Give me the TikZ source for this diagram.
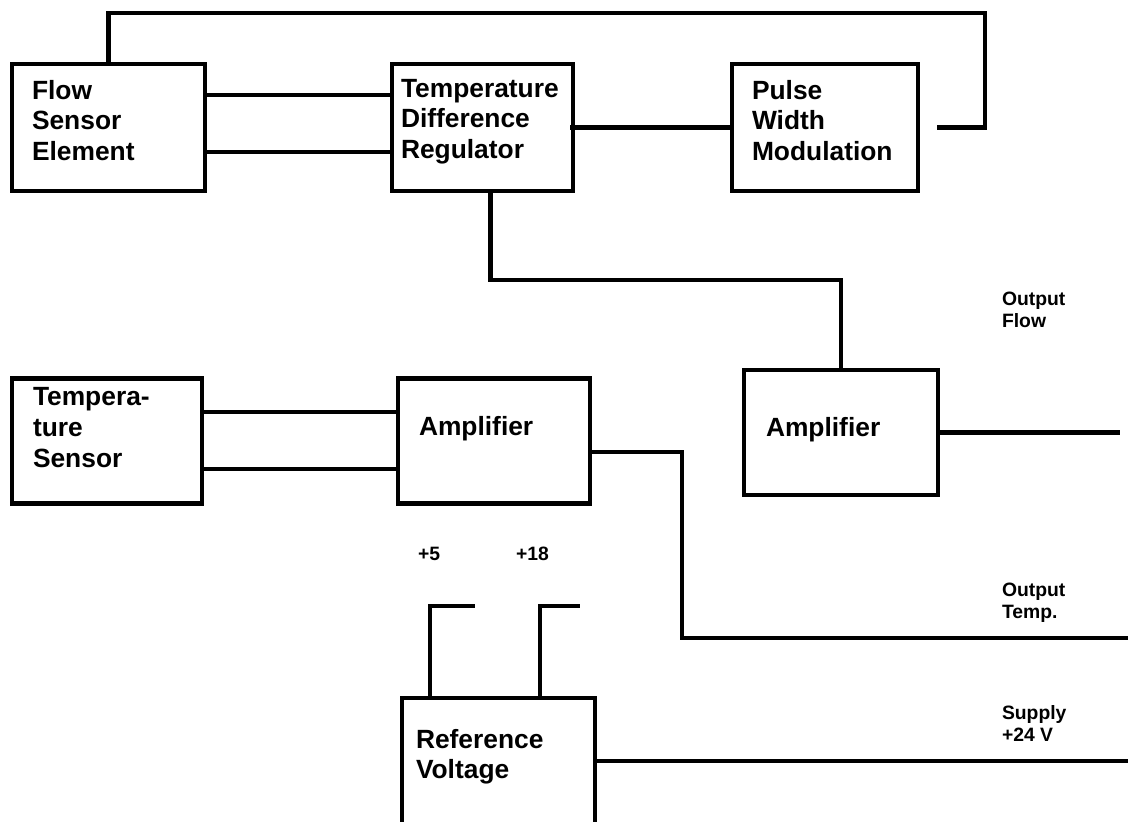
\documentclass[tikz,border=0pt]{standalone}
\usepackage{fontspec}
\setmainfont{Liberation Sans}
\usepackage{tikz}
\usetikzlibrary{positioning}

\tikzset{
    blk/.style={draw, line width=2.3pt, inner sep=0pt},
    blktext/.style={align=left, inner sep=0pt, font=\bfseries\fontsize{15}{17.5}\selectfont},
    sidetext/.style={align=left, inner sep=0pt, font=\bfseries\fontsize{11}{12.5}\selectfont},
}

\begin{document}
\begin{tikzpicture}[line width=2.3pt]
    \clip (0,0) rectangle (22.64,-16.42);
    \useasboundingbox (0,0) rectangle (22.64,-16.42);

    % Boxes
    \node[blk, minimum width=3.86cm, minimum height=2.54cm] (fse) at (2.17,-2.55) {};
    \node[blk, minimum width=3.62cm, minimum height=2.54cm] (tdr) at (9.65,-2.55) {};
    \node[blk, minimum width=3.72cm, minimum height=2.54cm] (pwm) at (16.5,-2.55) {};
    \node[blk, minimum width=3.8cm, minimum height=2.5cm] (ts) at (2.14,-8.82) {};
    \node[blk, minimum width=3.84cm, minimum height=2.5cm] (ampT) at (9.88,-8.82) {};
    \node[blk, minimum width=3.88cm, minimum height=2.50cm] (ampF) at (16.82,-8.65) {};
    \node[blk, minimum width=3.86cm, minimum height=3.4cm, anchor=north] (ref) at (9.97,-13.92) {};

    % Box texts
    \node[blktext, below right=0.32cm and 0.40cm of fse.north west] (fse-t) {Flow\\Sensor\\Element};
    \node[blktext, below right=0.30cm and 0.18cm of tdr.north west] (tdr-t) {Temperature\\Difference\\Regulator};
    \node[blktext, below right=0.32cm and 0.40cm of pwm.north west] (pwm-t) {Pulse\\Width\\Modulation};
    \node[blktext, below right=0.18cm and 0.42cm of ts.north west] (ts-t) {Tempera-\\ture\\Sensor};
    \node[blktext, below right=0.76cm and 0.42cm of ampT.north west] (ampT-t) {Amplifier};
    \node[blktext, below right=0.94cm and 0.44cm of ampF.north west] (ampF-t) {Amplifier};
    \node[blktext, below right=0.62cm and 0.28cm of ref.north west] (ref-t) {Reference\\Voltage};

    % Side labels
    \node[sidetext, anchor=north west] (lflow) at (20.0,-5.8) {Output\\Flow};
    \node[sidetext, anchor=north west] (ltemp) at (20.0,-11.62) {Output\\Temp.};
    \node[sidetext, anchor=north west] (lsupply) at (20.0,-14.06) {Supply\\+24 V};
    \node[sidetext, anchor=north west] (lfive) at (8.32,-10.9) {+5};
    \node[sidetext, anchor=north west] (leighteen) at (10.28,-10.9) {+18};

    % Free ends
    \coordinate (fb) at ([xshift=0.34cm]pwm.east);
    \coordinate (outflow) at ([xshift=3.6cm]ampF.east);
    \coordinate (outtemp) at (22.56,-12.76);
    \coordinate (supply) at (22.56,-15.2);

    % Flow sensor to regulator
    \draw ([yshift=0.65cm]fse.east) -- ([yshift=0.65cm]tdr.west);
    \draw ([yshift=-0.49cm]fse.east) -- ([yshift=-0.49cm]tdr.west);
    % Regulator to PWM and feedback
    \draw ([xshift=-0.1cm]tdr.east) -- (pwm.west);
    \draw (fb) -- ++(0.96,0) |- ([yshift=0.98cm]fse.north) -- (fse.north);
    % Regulator to flow amplifier
    \draw ([xshift=0.16cm]tdr.south) -- ++(0,-1.74) -| (ampF.north);
    \draw (ampF.east) -- (outflow);

    % Temperature sensor to amplifier
    \draw ([yshift=0.58cm]ts.east) -- ([yshift=0.58cm]ampT.west);
    \draw ([yshift=-0.56cm]ts.east) -- ([yshift=-0.56cm]ampT.west);
    \draw ([yshift=-0.22cm]ampT.east) -- ++(1.8,0) |- (outtemp);

    % Reference voltage
    \draw ([xshift=-1.37cm]ref.north) |- ++(0.9,1.8) coordinate (five);
    \draw ([xshift=0.83cm]ref.north) |- ++(0.8,1.8) coordinate (eighteen);
    \draw ([yshift=-1.3cm]ref.north east) coordinate (rvout) -- (rvout -| supply);
\end{tikzpicture}
\end{document}
